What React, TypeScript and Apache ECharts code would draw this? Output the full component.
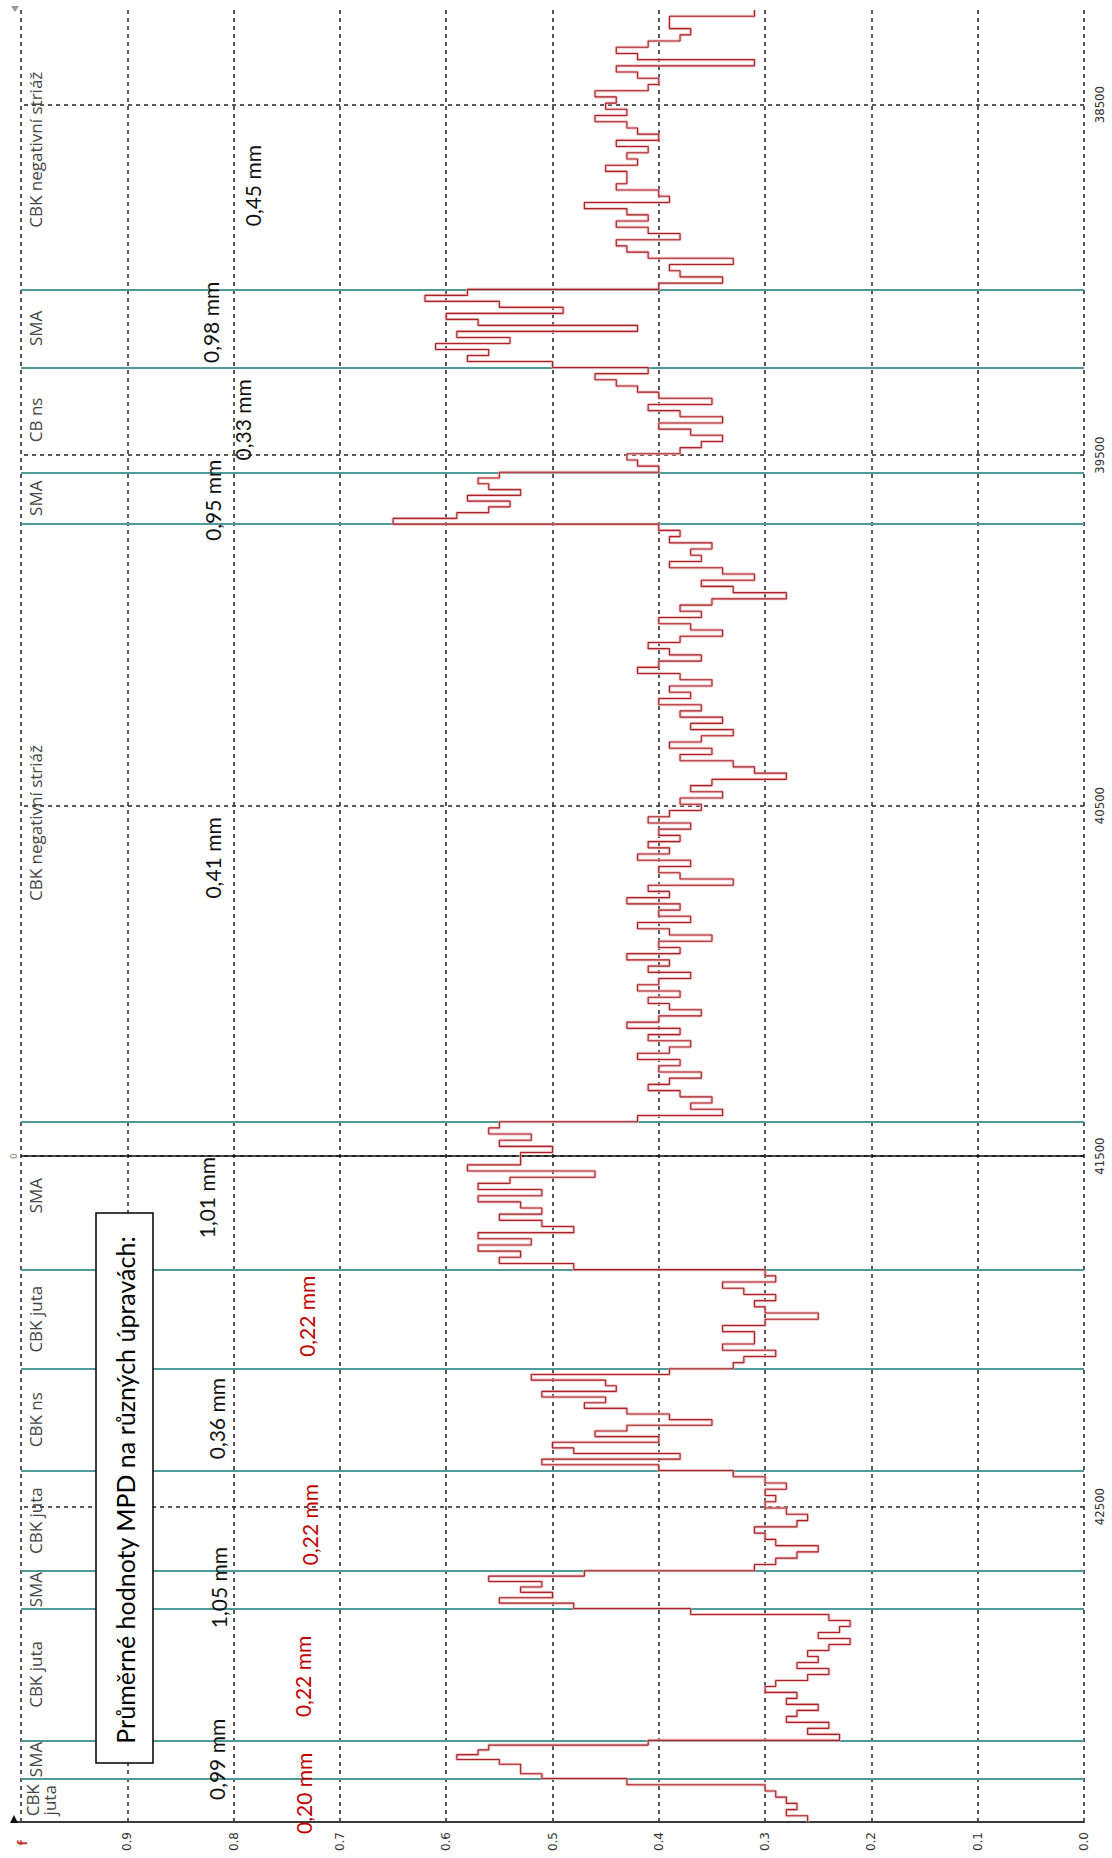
import React, { useEffect, useRef } from 'react';
import * as echarts from 'echarts';

// Chainage range (m) shown on the vertical axis and its labelled stations
const DIST_MIN = 38230;
const DIST_MAX = 43400;
const distanceTicks = [38500, 39500, 40500, 41500, 42500];
const zeroStation = 41500;

// Pavement sections along the route (boundaries in m)
const sectionBounds = [38230, 39027, 39250, 39549, 39697, 41402, 41824, 42107, 42397, 42683, 42791, 43167, 43276, 43400];
const sectionNames = [
  'CBK negativní striáž', 'SMA', 'CB ns', 'SMA', 'CBK negativní striáž', 'SMA',
  'CBK juta', 'CBK ns', 'CBK juta', 'SMA', 'CBK juta', 'SMA', 'CBK\njuta',
];
const sectionMeanLabels = [
  '0,45 mm', '0,98 mm', '0,33 mm', '0,95 mm', '0,41 mm', '1,01 mm',
  '0,22 mm', '0,36 mm', '0,22 mm', '1,05 mm', '0,22 mm', '0,99 mm', '0,20 mm',
];
const redMeanSections = [6, 8, 10, 12];

// MPD profile samples (mm), one array per section, in order of chainage
const mpdCbkNeg1 = [0.31, 0.39, 0.39, 0.37, 0.38, 0.41, 0.44, 0.42, 0.31, 0.44, 0.42, 0.40, 0.41, 0.46, 0.44, 0.45, 0.43, 0.46, 0.43, 0.42, 0.40, 0.44, 0.41, 0.43, 0.42, 0.45, 0.43, 0.43, 0.44, 0.40, 0.39, 0.47, 0.43, 0.41, 0.44, 0.41, 0.38, 0.44, 0.43, 0.41, 0.33, 0.39, 0.38, 0.34, 0.40];
const mpdSma1 = [0.58, 0.62, 0.55, 0.49, 0.60, 0.57, 0.42, 0.59, 0.54, 0.61, 0.56, 0.58, 0.50];
const mpdCbNs = [0.41, 0.46, 0.44, 0.42, 0.40, 0.35, 0.41, 0.38, 0.34, 0.40, 0.37, 0.34, 0.36, 0.38, 0.43, 0.42, 0.40];
const mpdSma2 = [0.55, 0.57, 0.56, 0.53, 0.58, 0.54, 0.56, 0.59, 0.65];
const mpdCbkNeg2 = [
  0.40, 0.38, 0.39, 0.35, 0.37, 0.36, 0.39, 0.34, 0.31, 0.36,
  0.33, 0.28, 0.35, 0.38, 0.36, 0.40, 0.37, 0.34, 0.38, 0.41,
  0.39, 0.36, 0.40, 0.42, 0.38, 0.35, 0.39, 0.37, 0.40, 0.36,
  0.38, 0.34, 0.37, 0.33, 0.36, 0.39, 0.35, 0.38, 0.33, 0.31,
  0.28, 0.35, 0.37, 0.34, 0.38, 0.36, 0.39, 0.41, 0.37, 0.40,
  0.38, 0.41, 0.39, 0.42, 0.37, 0.40, 0.38, 0.33, 0.41, 0.39,
  0.43, 0.38, 0.40, 0.37, 0.42, 0.39, 0.35, 0.40, 0.38, 0.43,
  0.39, 0.41, 0.37, 0.40, 0.42, 0.38, 0.41, 0.39, 0.36, 0.40,
  0.43, 0.38, 0.41, 0.37, 0.39, 0.42, 0.38, 0.40, 0.36, 0.39,
  0.41, 0.38, 0.35, 0.37, 0.34, 0.42,
];
const mpdSma3 = [0.55, 0.56, 0.52, 0.55, 0.50, 0.53, 0.53, 0.58, 0.46, 0.54, 0.57, 0.51, 0.57, 0.53, 0.51, 0.55, 0.51, 0.48, 0.57, 0.52, 0.57, 0.53, 0.55, 0.48];
const mpdJuta1 = [0.30, 0.29, 0.34, 0.32, 0.29, 0.31, 0.30, 0.25, 0.30, 0.34, 0.31, 0.31, 0.34, 0.29, 0.32, 0.33];
const mpdCbkNs = [0.39, 0.52, 0.45, 0.44, 0.51, 0.45, 0.47, 0.43, 0.39, 0.35, 0.43, 0.46, 0.40, 0.50, 0.48, 0.38, 0.51, 0.40];
const mpdJuta2 = [0.33, 0.30, 0.28, 0.30, 0.29, 0.30, 0.28, 0.26, 0.27, 0.31, 0.30, 0.29, 0.25, 0.27, 0.29, 0.31];
const mpdSma4 = [0.47, 0.56, 0.51, 0.53, 0.50, 0.55, 0.48];
const mpdJuta3 = [0.37, 0.24, 0.22, 0.23, 0.25, 0.22, 0.24, 0.26, 0.25, 0.27, 0.24, 0.26, 0.29, 0.30, 0.27, 0.28, 0.25, 0.27, 0.28, 0.24, 0.26, 0.23];
const mpdSma5 = [0.41, 0.56, 0.57, 0.59, 0.55, 0.53, 0.53, 0.51];
const mpdJuta4 = [0.43, 0.30, 0.29, 0.28, 0.27, 0.28, 0.26];

const sectionSamples = [
  mpdCbkNeg1, mpdSma1, mpdCbNs, mpdSma2, mpdCbkNeg2, mpdSma3,
  mpdJuta1, mpdCbkNs, mpdJuta2, mpdSma4, mpdJuta3, mpdSma5, mpdJuta4,
];

// Text placement (px across the plot) for the section captions and mean values
const SECTION_LABEL_X = 35;
const meanLabelX = [252, 210, 242, 212, 212, 206, 306, 216, 309, 218, 302, 216, 303];
const meanLabelDy = [36, -6, 0, 2, 35, 2, -3, -1, 4, -2, 2, 0, -7];

// Step profile: every sample holds its value over an equal share of its section
function buildProfile(): number[][] {
  const pts: number[][] = [];
  sectionSamples.forEach((vals, k) => {
    const a = sectionBounds[k];
    const b = sectionBounds[k + 1];
    const w = (b - a) / vals.length;
    vals.forEach((v, i) => {
      pts.push([v, a + i * w]);
      pts.push([v, a + (i + 1) * w]);
    });
  });
  return pts;
}

export default function App() {
  const ref = useRef<HTMLDivElement>(null);

  useEffect(() => {
    if (!ref.current) return;
    const chart = echarts.init(ref.current, undefined, { renderer: 'svg' });
    const profile = buildProfile();
    const centers = sectionNames.map((_, i) => [0, (sectionBounds[i] + sectionBounds[i + 1]) / 2]);
    const innerBounds = sectionBounds.slice(1, -1);

    chart.setOption({
      animation: false,
      backgroundColor: '#ffffff',
      grid: { left: 21, right: 28, top: 10, bottom: 36, containLabel: false },
      xAxis: {
        type: 'value',
        inverse: true,
        min: 0,
        max: 1,
        interval: 0.1,
        position: 'bottom',
        axisLine: { show: true, onZero: false, lineStyle: { color: '#3a3a3a', width: 2 } },
        axisTick: { show: false },
        splitLine: { show: true, lineStyle: { color: '#222', type: [4, 4], width: 1.5 } },
        axisLabel: {
          rotate: 90,
          margin: 10,
          color: '#333',
          fontFamily: 'DejaVu Sans',
          fontSize: 12,
          formatter: (v: number) => (v > 0.95 ? '' : v.toFixed(1)),
        },
      },
      yAxis: {
        type: 'value',
        inverse: true,
        min: DIST_MIN,
        max: DIST_MAX,
        position: 'right',
        axisLine: { show: false },
        axisTick: { show: false },
        splitLine: { show: false },
        axisLabel: {
          customValues: distanceTicks,
          rotate: 90,
          margin: 9,
          color: '#333',
          fontFamily: '"DejaVu Sans Condensed", "DejaVu Sans", sans-serif',
          fontSize: 13,
          formatter: (v: number) => String(Math.round(v)),
        },
      },
      series: [
        {
          name: 'stations',
          type: 'line',
          data: [],
          markLine: {
            silent: true,
            z: 1,
            symbol: ['none', 'none'],
            label: { show: false },
            lineStyle: { color: '#222', type: [4, 4], width: 1.6 },
            data: distanceTicks.map((d) => ({ yAxis: d })),
          },
        },
        {
          name: 'section bounds',
          type: 'line',
          data: [],
          markLine: {
            silent: true,
            z: 2,
            symbol: ['none', 'none'],
            label: { show: false },
            lineStyle: { color: '#4f9b9b', type: 'solid', width: 2.2 },
            data: innerBounds.map((d) => ({ yAxis: d })),
          },
        },
        {
          name: 'zero station',
          type: 'line',
          data: [],
          markLine: {
            silent: true,
            z: 3,
            symbol: ['none', 'none'],
            label: { show: false },
            lineStyle: { color: '#111', type: 'solid', width: 1.5 },
            data: [{ yAxis: zeroStation }],
          },
        },
        {
          name: 'MPD halo',
          type: 'line',
          z: 6,
          data: profile,
          showSymbol: false,
          symbol: 'none',
          lineStyle: { color: '#eeb2b2', width: 3, opacity: 0.8 },
        },
        {
          name: 'MPD',
          type: 'line',
          z: 7,
          data: profile,
          showSymbol: false,
          symbol: 'none',
          lineStyle: { color: '#a8232b', width: 1.1 },
        },
        {
          name: 'section names',
          type: 'custom',
          z: 8,
          silent: true,
          clip: false,
          data: centers,
          renderItem: (params: any, api: any) => {
            const i = params.dataIndex;
            const y = api.coord([0, api.value(1)])[1];
            const twoLine = sectionNames[i].indexOf('\n') >= 0;
            return {
              type: 'text',
              x: SECTION_LABEL_X + (twoLine ? 6 : 0),
              y,
              rotation: Math.PI / 2,
              style: {
                text: sectionNames[i],
                fill: '#454545',
                fontSize: 17,
                fontFamily: 'Open Sans',
                lineHeight: 17,
                align: 'center',
                verticalAlign: 'middle',
              },
            };
          },
        },
        {
          name: 'section means',
          type: 'custom',
          z: 9,
          silent: true,
          clip: false,
          data: centers,
          renderItem: (params: any, api: any) => {
            const i = params.dataIndex;
            const y = api.coord([0, api.value(1)])[1] + meanLabelDy[i];
            return {
              type: 'text',
              x: meanLabelX[i],
              y,
              rotation: Math.PI / 2,
              style: {
                text: sectionMeanLabels[i],
                fill: redMeanSections.indexOf(i) >= 0 ? '#c00000' : '#111',
                fontSize: 21,
                fontFamily: 'Lato',
                align: 'center',
                verticalAlign: 'middle',
              },
            };
          },
        },
        {
          name: 'zero mark',
          type: 'custom',
          z: 9,
          silent: true,
          clip: false,
          data: [[0, zeroStation]],
          renderItem: (params: any, api: any) => {
            const y = api.coord([0, api.value(1)])[1];
            return {
              type: 'text',
              x: 14,
              y,
              rotation: Math.PI / 2,
              style: {
                text: '0',
                fill: '#777',
                fontSize: 9,
                fontFamily: 'DejaVu Sans',
                align: 'center',
                verticalAlign: 'middle',
              },
            };
          },
        },
      ],
      graphic: [
        {
          type: 'rect',
          z: 100,
          shape: { x: 96, y: 1213, width: 57, height: 550 },
          style: { fill: '#ffffff', stroke: '#000', lineWidth: 1.5 },
        },
        {
          type: 'text',
          z: 101,
          x: 124.5,
          y: 1490,
          rotation: Math.PI / 2,
          style: {
            text: 'Průměrné hodnoty MPD na různých úpravách:',
            fill: '#000',
            fontSize: 25,
            fontFamily: 'Lato',
            align: 'center',
            verticalAlign: 'middle',
          },
        },
        {
          type: 'line',
          z: 100,
          shape: { x1: 12, y1: 1822, x2: 22, y2: 1822 },
          style: { stroke: '#3a3a3a', lineWidth: 2 },
        },
        {
          type: 'polygon',
          z: 100,
          shape: { points: [[10, 1823], [18, 1823], [14, 1815]] },
          style: { fill: '#111' },
        },
        {
          type: 'polygon',
          z: 100,
          shape: { points: [[11, 6], [19, 6], [15, 12]] },
          style: { fill: '#999' },
        },
        {
          type: 'text',
          z: 100,
          x: 23,
          y: 1843,
          rotation: Math.PI / 2,
          style: {
            text: 'f',
            fill: '#c0392b',
            fontSize: 12,
            fontWeight: 'bold',
            fontFamily: 'DejaVu Sans',
            align: 'center',
            verticalAlign: 'middle',
          },
        },
      ],
    });

    return () => chart.dispose();
  }, []);

  return (
    <div
      ref={ref}
      style={{ position: 'fixed', left: 0, top: 0, width: 1112, height: 1858, background: '#fff' }}
    />
  );
}
